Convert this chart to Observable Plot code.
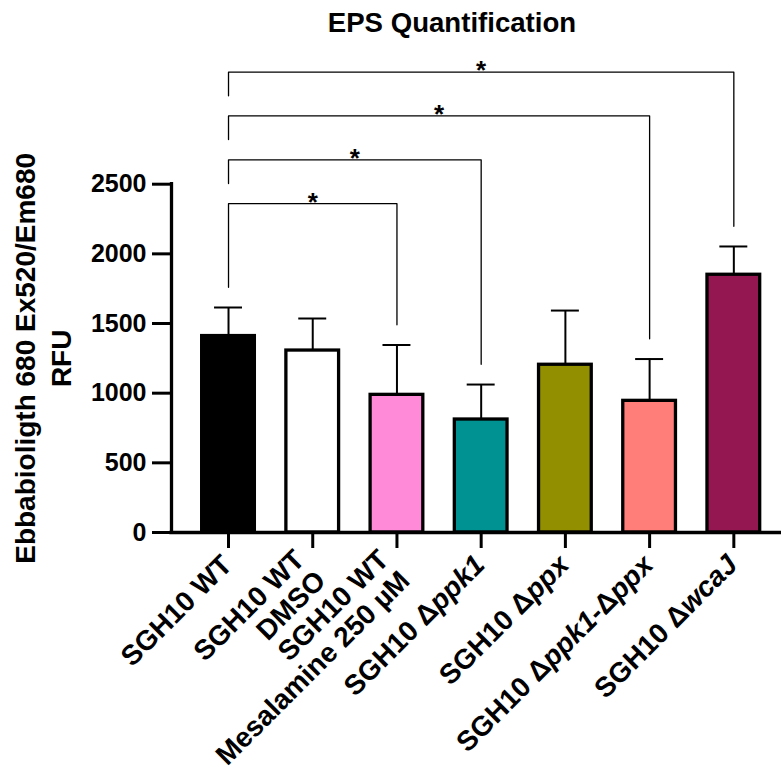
<!DOCTYPE html>
<html><head><meta charset="utf-8">
<script src="https://cdn.jsdelivr.net/npm/d3@7"></script>
<script src="https://cdn.jsdelivr.net/npm/@observablehq/plot@0.6"></script>
<style>
body{margin:0;background:#fff;}
#title{width:781px;box-sizing:border-box;padding-left:123px;padding-top:1px;height:45px;line-height:44px;text-align:center;font:bold 27.6px "Liberation Sans",Arial,sans-serif;color:#000;white-space:nowrap;overflow:visible;}
#title span{position:relative;top:6px;}
#chart svg{display:block;}
</style></head><body>
<div id="title"><span>EPS Quantification</span></div>
<div id="chart"></div>
<script>
const categories = ["SGH10 WT", "SGH10 WT\nDMSO", "SGH10 WT\nMesalamine 250 µM", "SGH10 Δppk1", "SGH10 Δppx", "SGH10 Δppk1-Δppx", "SGH10 ΔwcaJ"];
const means = [1410, 1306, 988, 811, 1204, 945, 1850];
const sds = [205, 230, 358, 251, 389, 300, 203];
const colors = ["#000000", "#ffffff", "#FF8AD8", "#009193", "#929000", "#FF7E79", "#941751"];
const bracketFrom = [0, 0, 0, 0];
const bracketTo = [2, 3, 5, 6];
const bracketY = [2360, 2675, 2990, 3305];
const bracketMarks = ["*", "*", "*", "*"];
const yTicks = [0, 500, 1000, 1500, 2000, 2500];
const yLabel = "Ebbabioligth 680 Ex520/Em680\nRFU";
const italicNames = ["ppk1", "ppx", "wcaJ"];

const data = categories.map((c, i) => ({i, name: c, mean: means[i], top: means[i] + sds[i], color: colors[i]}));
const gap = 145;
const segs = [];
bracketFrom.forEach((f, k) => {
  const t = bracketTo[k], y = bracketY[k];
  const leftEnd = k === 0 ? data[f].top + gap : bracketY[k - 1] + gap;
  segs.push({k, x: f, y: leftEnd}, {k, x: f, y}, {k, x: t, y}, {k, x: t, y: data[t].top + gap});
});
const stars = bracketFrom.map((f, k) => ({x: (f + bracketTo[k]) / 2, y: bracketY[k], t: bracketMarks[k]}));

const xDomain = [-0.677, categories.length - 1 + 0.566];
const half = 0.3325, capHalf = 0.166;

const plot = Plot.plot({
  width: 781, height: 725,
  marginLeft: 171, marginRight: 0, marginTop: 138.7, marginBottom: 238,
  x: {domain: xDomain, label: null},
  y: {domain: [0, 2500], label: null},
  color: {type: "identity"},
  style: {fontFamily: '"Liberation Sans", Arial, sans-serif', fontWeight: "bold", fontSize: "24px", color: "#000", background: "#fff", overflow: "visible"},
  marks: [
    Plot.rectY(data, {x1: d => d.i - half, x2: d => d.i + half, y1: 0, y2: "mean", fill: "color", stroke: "#000", strokeWidth: 3.3, insetLeft: 1.65, insetRight: 1.65}),
    Plot.ruleX(data, {x: "i", y1: "mean", y2: "top", strokeWidth: 2}),
    Plot.ruleY(data, {y: "top", x1: d => d.i - capHalf, x2: d => d.i + capHalf, strokeWidth: 2}),
    Plot.line(segs, {x: "x", y: "y", z: "k", stroke: "#000", strokeWidth: 1.3}),
    Plot.text(stars, {x: "x", y: "y", text: "t", fontSize: 26, lineAnchor: "bottom", dy: 7}),
    Plot.ruleY([0], {strokeWidth: 3.3, strokeLinecap: "square"}),
    Plot.ruleX([xDomain[0]], {strokeWidth: 3.3, strokeLinecap: "square"}),
    Plot.axisY({ticks: yTicks, tickSize: 19, tickPadding: 6, strokeWidth: 3, fontSize: 25, tickFormat: d => String(d), label: null}),
    Plot.axisX({ticks: d3.range(categories.length), tickSize: 16, strokeWidth: 3, tickFormat: () => "", label: null}),
    Plot.text(data.filter(d => !d.name.includes("\n")), {x: "i", frameAnchor: "bottom", text: "name", rotate: -45, textAnchor: "end", lineAnchor: "top", fontSize: 28, dx: -9, dy: 20}),
    Plot.text(data.filter(d => d.name.includes("\n")), {x: "i", frameAnchor: "bottom", text: "name", rotate: -45, textAnchor: "end", lineAnchor: "top", lineHeight: 1.06, fontSize: 28, dx: -21.5, dy: 14}),
    Plot.text([yLabel], {frameAnchor: "left", text: d => d, rotate: -90, textAnchor: "middle", lineAnchor: "top", lineHeight: 1.29, fontSize: 28, dx: -162.5})
  ]
});

const re = new RegExp("(" + italicNames.join("|") + ")");
plot.querySelectorAll("text").forEach(t => {
  if (t.children.length) return;
  const s = t.textContent;
  if (!s.includes("Δ")) return;
  t.textContent = "";
  s.split(re).forEach(part => {
    if (!part) return;
    const ts = document.createElementNS("http://www.w3.org/2000/svg", "tspan");
    ts.textContent = part;
    if (italicNames.includes(part)) ts.setAttribute("font-style", "italic");
    t.appendChild(ts);
  });
});
document.getElementById("chart").appendChild(plot);
</script>
</body></html>
